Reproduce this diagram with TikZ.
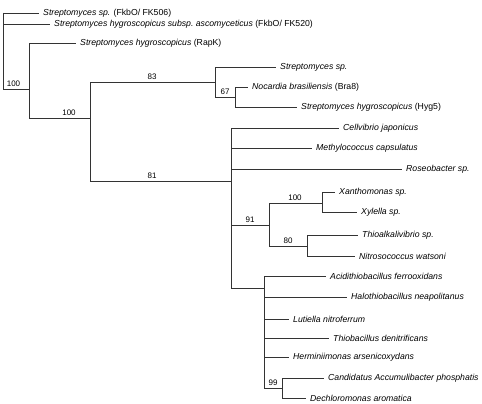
\documentclass[tikz,border=0pt]{standalone}
\usepackage{fontspec}
\setmainfont{Liberation Sans}
\begin{document}
\begin{tikzpicture}[x=1pt,y=-1pt,
    branch/.style={draw=black!80, line width=0.9pt},
    taxon/.style={anchor=west, inner xsep=4pt, inner ysep=1pt,
      font=\fontsize{8.7}{10}\selectfont\itshape},
    support/.style={anchor=south, inner xsep=1pt, inner ysep=2.5pt,
      font=\fontsize{8}{9}\selectfont}]
  \useasboundingbox (0,0) rectangle (482,404);
  % internal nodes
  \coordinate (root) at (3,13);
  \coordinate (a) at (29,89);
  \coordinate (b) at (90,118);
  \coordinate (c) at (215,82);
  \coordinate (d) at (235,97);
  \coordinate (e) at (231,181);
  \coordinate (f) at (269,225);
  \coordinate (g) at (322,203);
  \coordinate (h) at (307,246);
  \coordinate (i) at (264,288);
  \coordinate (j) at (282,388);
  % leaves
  \node[taxon] (fk506) at (39,13) {Streptomyces sp. \textup{(FkbO/ FK506)}};
  \node[taxon] (fk520) at (50,24) {Streptomyces hygroscopicus subsp.\ ascomyceticus \textup{(FkbO/ FK520)}};
  \node[taxon] (rapk) at (76,43) {Streptomyces hygroscopicus \textup{(RapK)}};
  \node[taxon] (strep) at (276,67) {Streptomyces sp.};
  \node[taxon] (bra8) at (248,87) {Nocardia brasiliensis \textup{(Bra8)}};
  \node[taxon] (hyg5) at (297,107) {Streptomyces hygroscopicus \textup{(Hyg5)}};
  \node[taxon] (cellv) at (339,128) {Cellvibrio japonicus};
  \node[taxon] (methyl) at (312,148) {Methylococcus capsulatus};
  \node[taxon] (roseo) at (402,169) {Roseobacter sp.};
  \node[taxon] (xantho) at (335,192) {Xanthomonas sp.};
  \node[taxon] (xyl) at (357,212) {Xylella sp.};
  \node[taxon] (thioalk) at (358,235) {Thioalkalivibrio sp.};
  \node[taxon] (nitro) at (355,256) {Nitrosococcus watsoni};
  \node[taxon] (acidi) at (326,276) {Acidithiobacillus ferrooxidans};
  \node[taxon] (halo) at (347,297) {Halothiobacillus neapolitanus};
  \node[taxon] (luti) at (289,319) {Lutiella nitroferrum};
  \node[taxon] (thiob) at (329,338) {Thiobacillus denitrificans};
  \node[taxon] (hermi) at (289,357) {Herminiimonas arsenicoxydans};
  \node[taxon] (cand) at (324,378) {Candidatus Accumulibacter phosphatis};
  \node[taxon] (dechl) at (306,398) {Dechloromonas aromatica};
  % branches
  \begin{scope}[branch]
    \draw (root) |- (fk506.west);
    \draw (root) |- (fk520.west);
    \draw (root) |- (a);
    \draw (a) |- (rapk.west);
    \draw (a) |- (b);
    \draw (b) |- (c);
    \draw (b) |- (e);
    \draw (c) |- (strep.west);
    \draw (c) |- (d);
    \draw (d) |- (bra8.west);
    \draw (d) |- (hyg5.west);
    \draw (e) |- (cellv.west);
    \draw (e) |- (methyl.west);
    \draw (e) |- (roseo.west);
    \draw (e) |- (f);
    \draw (e) |- (i);
    \draw (f) |- (g);
    \draw (f) |- (h);
    \draw (g) |- (xantho.west);
    \draw (g) |- (xyl.west);
    \draw (h) |- (thioalk.west);
    \draw (h) |- (nitro.west);
    \draw (i) |- (acidi.west);
    \draw (i) |- (halo.west);
    \draw (i) |- (luti.west);
    \draw (i) |- (thiob.west);
    \draw (i) |- (hermi.west);
    \draw (i) |- (j);
    \draw (j) |- (cand.west);
    \draw (j) |- (dechl.west);
  \end{scope}
  % bootstrap values
  \node[support] (sa) at (13.5,89) {100};
  \node[support] (sb) at (69,118) {100};
  \node[support] (sc) at (152,82) {83};
  \node[support] (se) at (152,181) {81};
  \node[support] (sd) at (225,97) {67};
  \node[support] (sf) at (250,225) {91};
  \node[support] (sg) at (295,203) {100};
  \node[support] (sh) at (288,246) {80};
  \node[support] (sj) at (273,388) {99};
\end{tikzpicture}
\end{document}
